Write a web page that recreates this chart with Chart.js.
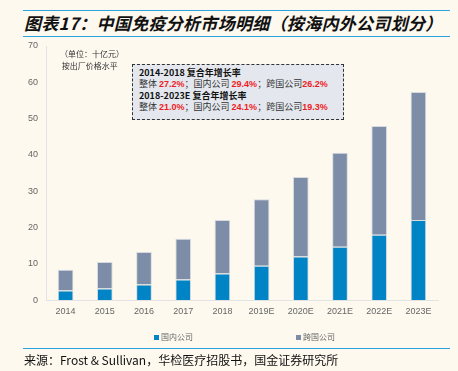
<!DOCTYPE html>
<html>
<head>
<meta charset="utf-8">
<script src="https://cdn.jsdelivr.net/npm/chart.js@4/dist/chart.umd.min.js"></script>
<style>
  html, body { margin: 0; padding: 0; background: #fdf9ef; }
  body { width: 458px; height: 371px; position: relative; overflow: hidden; font-family: "Noto Sans CJK SC", "Noto Sans", sans-serif; }
  .rule { position: absolute; left: 23px; width: 427px; height: 0; border-top: 1.5px solid #2aa3e0; }
  #title { position: absolute; left: 24px; top: 10px; font-size: 17px; font-weight: bold; font-style: italic; color: #111; white-space: nowrap; letter-spacing: 0.3px; }
  #unit { position: absolute; left: 60px; top: 48px; font-size: 8px; color: #333; line-height: 12px; }
  #note { position: absolute; left: 132px; top: 64px; width: 204px; height: 52px; background: #e4e8ee; border: 1px dashed #333; font-size: 9px; line-height: 11px; padding: 2px 0 0 6px; color: #333; }
  #note b { color: #111; }
  #note .r { color: #ee1c25; font-weight: bold; font-family: "Liberation Sans", Arial, sans-serif; }
  #source { position: absolute; left: 24px; top: 351px; font-size: 12px; color: #111; white-space: nowrap; }
  #wrap { position: absolute; left: 0; top: 0; width: 458px; height: 371px; }
  #legend { position: absolute; top: 331px; left: 0; font-size: 8px; color: #666; white-space: nowrap; }
  #legend span { position: absolute; }
  #legend i { display: inline-block; width: 5px; height: 5px; margin-right: 2px; vertical-align: 0px; }
</style>
</head>
<body>
<div class="rule" style="top:10px"></div>
<div id="title">图表17：中国免疫分析市场明细（按海内外公司划分）</div>
<div class="rule" style="top:36px"></div>
<div id="wrap"><canvas id="myChart" width="458" height="371"></canvas></div>
<div id="unit">（单位：十亿元）<br>&nbsp;按出厂价格水平</div>
<div id="note">
  <b>2014-2018 复合年增长率</b><br>
  整体 <span class="r">27.2%</span>；国内公司 <span class="r">29.4%</span>；跨国公司<span class="r">26.2%</span><br>
  <b>2018-2023E 复合年增长率</b><br>
  整体 <span class="r">21.0%</span>；国内公司 <span class="r">24.1%</span>；跨国公司<span class="r">19.3%</span>
</div>
<div id="legend"></div>
<div class="rule" style="top:348px"></div>
<div id="source">来源：Frost &amp; Sullivan，华检医疗招股书，国金证券研究所</div>

<script>
const years = ['2014', '2015', '2016', '2017', '2018', '2019E', '2020E', '2021E', '2022E', '2023E'];
const domestic = [2.7, 3.25, 4.35, 5.7, 7.35, 9.5, 12.0, 14.7, 18.0, 22.1];
const foreign = [5.7, 7.25, 8.95, 11.2, 14.75, 18.3, 21.9, 25.9, 30.0, 35.2];
const yTicks = [0, 10, 20, 30, 40, 50, 60, 70];

// chart
let ctx = document.getElementById('myChart').getContext('2d');
let myChart = new Chart(ctx, {
    type: 'bar',
    data: {
        labels: years,
        datasets: [{
            label: '国内公司',
            data: domestic,
            backgroundColor: '#0084c6',
            borderColor: '#d6dbe0',
            borderWidth: 1,
            barPercentage: 0.4,
            categoryPercentage: 1
        }, {
            label: '跨国公司',
            data: foreign,
            backgroundColor: '#7d8da8',
            borderColor: '#d6dbe0',
            borderWidth: 1,
            barPercentage: 0.4,
            categoryPercentage: 1
        }]
    },
    options: {
        responsive: false,
        animation: false,
        layout: { padding: { left: 24, right: 20, top: 46, bottom: 48 } },
        plugins: {
            tooltip: { enabled: false },
            legend: { display: false }
        },
        scales: {
            x: {
                stacked: true,
                grid: { display: false, drawTicks: false },
                border: { color: '#e3e3e3' },
                ticks: { color: '#666', padding: 6, font: { size: 9, family: '"Liberation Sans", Arial, sans-serif' } }
            },
            y: {
                stacked: true,
                min: 0, max: 70,
                afterBuildTicks: (axis) => { axis.ticks = yTicks.map(v => ({ value: v })) },
                grid: { display: false, drawTicks: true, tickLength: 4, tickColor: '#e3e3e3' },
                border: { color: '#e3e3e3' },
                ticks: { color: '#666', padding: 4, font: { size: 9, family: '"Liberation Sans", Arial, sans-serif' } }
            }
        }
    }
});

// legend built from the datasets
const legendX = [154, 296];
const legend = document.getElementById('legend');
myChart.data.datasets.forEach((ds, i) => {
    const s = document.createElement('span');
    s.style.left = legendX[i] + 'px';
    s.innerHTML = '<i style="background:' + ds.backgroundColor + '"></i>' + ds.label;
    legend.appendChild(s);
});
</script>
</body>
</html>
